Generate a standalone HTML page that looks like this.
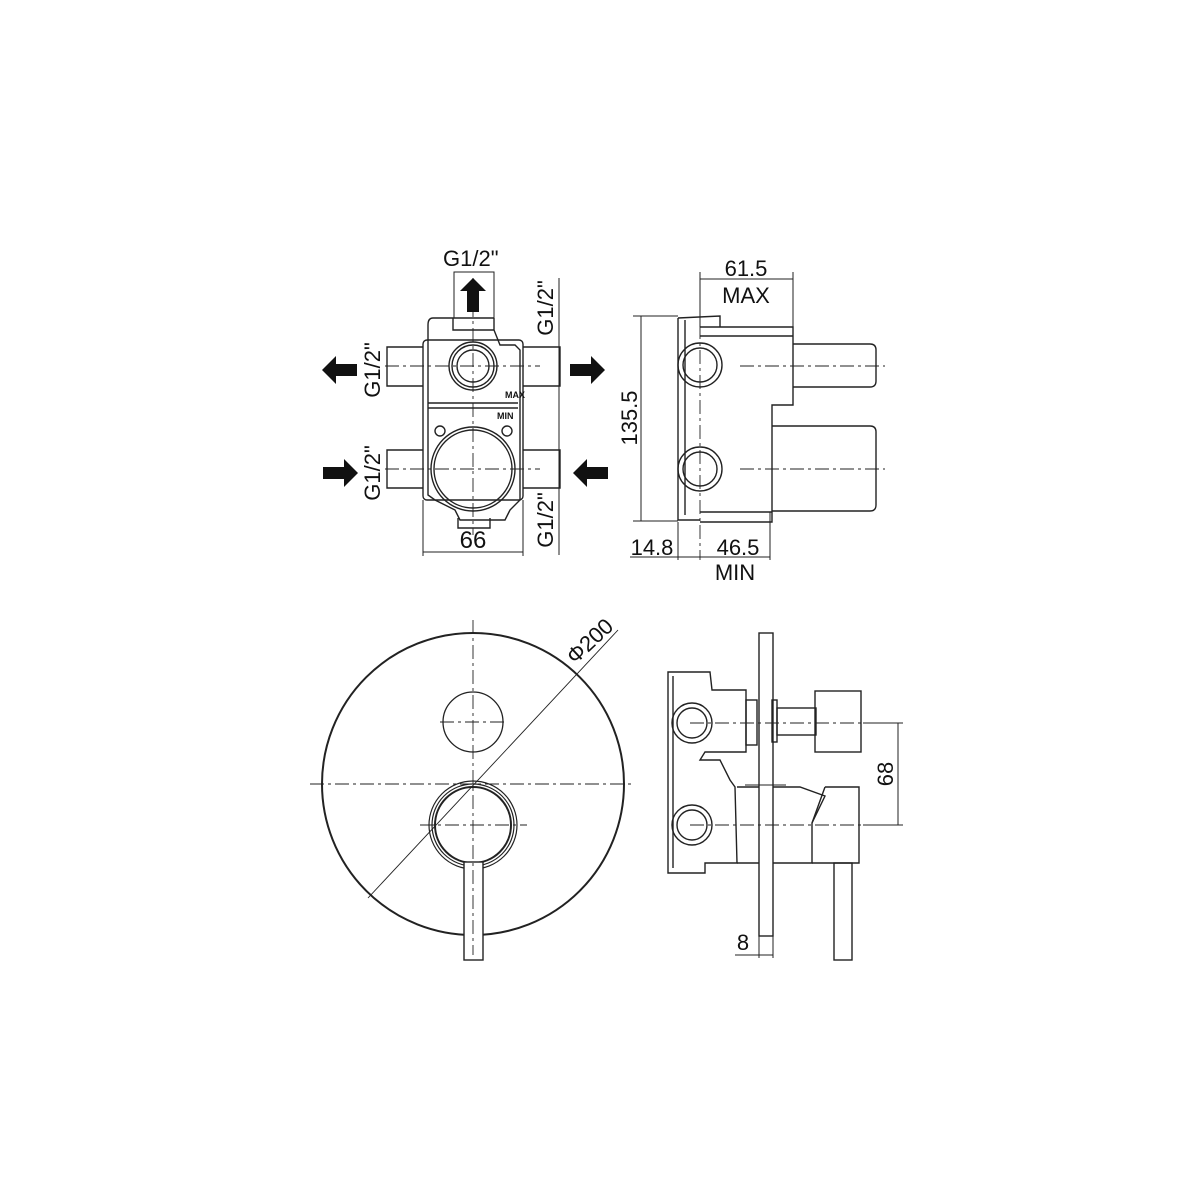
<!DOCTYPE html>
<html><head><meta charset="utf-8"><style>
html,body{margin:0;padding:0;background:#fff}
svg{display:block}
text{font-family:"Liberation Sans","DejaVu Sans",sans-serif;fill:#111}
</style></head><body>
<svg width="1200" height="1200" viewBox="0 0 1200 1200" xmlns="http://www.w3.org/2000/svg">
<rect width="1200" height="1200" fill="#fff"/>
<g fill="none" stroke="#222" stroke-width="1.4">
<!-- ===== TOP LEFT ===== -->
<!-- body -->
<path d="M433 318 L453 318 L453 330 L494 330 L494 318 M453 318 L494 318 M433 318 Q428 318 428 325 L428 345 M494 330 L500 345 L515 345 L520 350 L520 500 L510 510 L505 520 L460 520 L455 510 L435 500 L428 495 L428 345"/>
<rect x="423" y="340" width="100" height="160" rx="4"/>
<line x1="428" y1="403" x2="518" y2="403"/>
<line x1="428" y1="408" x2="518" y2="408"/>
<circle cx="473" cy="366" r="24"/><circle cx="473" cy="366" r="21"/><circle cx="473" cy="366" r="16"/>
<circle cx="473" cy="469" r="42"/><circle cx="473" cy="469" r="39"/>
<circle cx="440" cy="431" r="5"/><circle cx="507" cy="431" r="5"/>
<path d="M458 518 L458 528 L490 528 L490 518"/>
<!-- pipes -->
<path d="M423 347 L387 347 L387 386 L423 386 M523 347 L560 347 L560 386 L523 386"/>
<path d="M423 450 L387 450 L387 488 L423 488 M523 450 L560 450 L560 488 L523 488"/>
<!-- dims -->
<path d="M454 318 L454 272 L494 272 L494 318" stroke-width="1"/>
<path d="M423 500 L423 556 M523 500 L523 556 M423 552 L523 552" stroke-width="1"/>
<path d="M559 278 L559 555" stroke-width="1"/>
</g>
<g stroke="#222" stroke-width="0.9" stroke-dasharray="14 4 3 4" fill="none">
<line x1="473" y1="278" x2="473" y2="535"/>
<line x1="385" y1="366" x2="540" y2="366"/>
<line x1="385" y1="469" x2="540" y2="469"/>
</g>
<g fill="#111">
<polygon points="473,278 486,291 479,291 479,312 467,312 467,291 460,291"/>
<polygon points="322,370 336,356 336,364 357,364 357,376 336,376 336,384"/>
<polygon points="605,370 591,356 591,364 570,364 570,376 591,376 591,384"/>
<polygon points="358,473 344,459 344,467 323,467 323,479 344,479 344,487"/>
<polygon points="573,473 587,459 587,467 608,467 608,479 587,479 587,487"/>
</g>
<text x="443" y="266" font-size="22">G1/2"</text>
<text x="473" y="548" font-size="24" text-anchor="middle">66</text>
<text font-size="22" text-anchor="middle" transform="translate(380,370) rotate(-90)">G1/2"</text>
<text font-size="22" text-anchor="middle" transform="translate(380,473) rotate(-90)">G1/2"</text>
<text font-size="22" text-anchor="middle" transform="translate(553,308) rotate(-90)">G1/2"</text>
<text font-size="22" text-anchor="middle" transform="translate(553,520) rotate(-90)">G1/2"</text>
<text x="505" y="398" font-size="9" font-weight="bold">MAX</text>
<text x="497" y="419" font-size="9" font-weight="bold">MIN</text>

<!-- ===== TOP RIGHT ===== -->
<g fill="none" stroke="#222" stroke-width="1.4">
<path d="M678 318 L720 316 L720 327 M678 318 L678 520 L700 520"/>
<path d="M685 320 L685 515"/>
<path d="M700 327 L793 327 L793 405 L772 405 L772 522 L700 522"/>
<line x1="700" y1="336" x2="793" y2="336"/>
<line x1="700" y1="512" x2="772" y2="512"/>
<path d="M793 344 L870 344 Q876 344 876 350 L876 381 Q876 387 870 387 L793 387"/>
<path d="M772 426 L870 426 Q876 426 876 432 L876 505 Q876 511 870 511 L772 511"/>
<circle cx="700" cy="365" r="22"/><circle cx="700" cy="365" r="17"/>
<circle cx="700" cy="469" r="22"/><circle cx="700" cy="469" r="17"/>
<path d="M641 316 L641 521 M633 316 L678 316 M633 521 L678 521" stroke-width="1"/>
<path d="M700 272 L700 327 M793 272 L793 327 M700 279 L793 279" stroke-width="1"/>
<path d="M630 557 L770 557 M678 522 L678 560 M770 512 L770 560" stroke-width="1"/>
</g>
<g stroke="#222" stroke-width="0.9" stroke-dasharray="14 4 3 4" fill="none">
<line x1="700" y1="300" x2="700" y2="560"/>
<line x1="740" y1="366" x2="885" y2="366"/>
<line x1="740" y1="469" x2="885" y2="469"/>
</g>
<text x="746" y="276" font-size="22" text-anchor="middle">61.5</text>
<text x="746" y="303" font-size="22" text-anchor="middle">MAX</text>
<text font-size="22" text-anchor="middle" transform="translate(637,418) rotate(-90)">135.5</text>
<text x="652" y="555" font-size="22" text-anchor="middle">14.8</text>
<text x="738" y="555" font-size="22" text-anchor="middle">46.5</text>
<text x="735" y="580" font-size="22" text-anchor="middle">MIN</text>

<!-- ===== BOTTOM LEFT ===== -->
<g fill="none" stroke="#222">
<circle cx="473" cy="784" r="151" stroke-width="2"/>
<circle cx="473" cy="722" r="30" stroke-width="1.3"/>
<circle cx="473" cy="825" r="44" stroke-width="1.2"/>
<circle cx="473" cy="825" r="41" stroke-width="1.2"/>
<circle cx="473" cy="825" r="38" stroke-width="2"/>
<rect x="464" y="862" width="19" height="98" fill="#fff" stroke-width="1.4"/>
<line x1="368" y1="898" x2="618" y2="630" stroke-width="0.9"/>
</g>
<g stroke="#222" stroke-width="0.9" stroke-dasharray="14 4 3 4" fill="none">
<line x1="473" y1="620" x2="473" y2="955"/>
<line x1="310" y1="784" x2="635" y2="784"/>
<line x1="440" y1="722" x2="506" y2="722"/>
<line x1="420" y1="825" x2="527" y2="825"/>
</g>
<text font-size="22" transform="translate(575,665) rotate(-43)">Φ200</text>

<!-- ===== BOTTOM RIGHT ===== -->
<g fill="none" stroke="#222" stroke-width="1.4">
<rect x="759" y="633" width="14" height="303"/>
<path d="M668 672 L710 672 L712 690 L746 690 L746 752 L705 752 L700 760 L720 760 L730 780 L735 787 L737 863 L705 863 L705 873 L668 873 Z"/>
<line x1="673" y1="676" x2="673" y2="868"/>
<circle cx="692" cy="723" r="20"/><circle cx="692" cy="723" r="15"/>
<circle cx="692" cy="825" r="20"/><circle cx="692" cy="825" r="15"/>
<rect x="746" y="700" width="11" height="45"/>
<rect x="772" y="700" width="5" height="42"/>
<rect x="777" y="708" width="39" height="27"/>
<rect x="815" y="691" width="46" height="61"/>
<path d="M737 787 L759 787 M737 863 L759 863"/>
<path d="M773 787 L800 787 L825 796 L812 823 L812 863 L773 863"/>
<path d="M825 787 L859 787 L859 863 L812 863 M825 787 L812 823"/>
<path d="M745 785 L786 785" stroke-width="1"/>
<rect x="834" y="863" width="18" height="97"/>
<path d="M898 723 L898 825 M863 723 L903 723 M863 825 L903 825" stroke-width="1"/>
<path d="M759 936 L759 958 M773 936 L773 958 M735 955 L773 955" stroke-width="1"/>
</g>
<g stroke="#222" stroke-width="0.9" stroke-dasharray="14 4 3 4" fill="none">
<line x1="690" y1="723" x2="895" y2="723"/>
<line x1="690" y1="825" x2="895" y2="825"/>
</g>
<text font-size="22" text-anchor="middle" transform="translate(893,774) rotate(-90)">68</text>
<text x="743" y="950" font-size="22" text-anchor="middle">8</text>
</svg>
</body></html>
